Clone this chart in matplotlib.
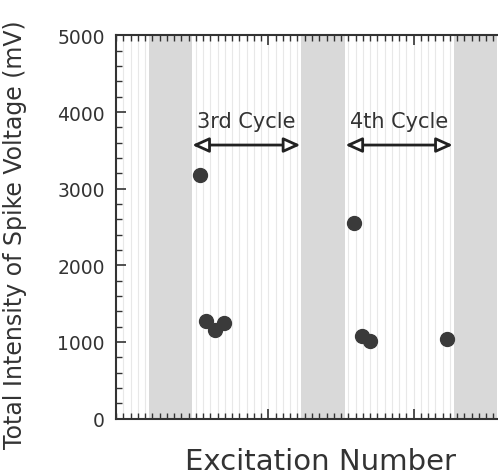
import numpy as np
import matplotlib.pyplot as plt
from matplotlib.ticker import MultipleLocator, FixedLocator

# excitation number vs total spike intensity (mV)
exc = [11.6, 12.4, 13.7, 14.9, 32.8, 33.9, 35.0, 45.6]
intensity = [3185, 1273, 1155, 1247, 2548, 1081, 1016, 1038]

# resting periods (shaded)
rest_start = [4.5, 25.5, 46.5]
rest_width = 6.0

cycle_names = ["3rd Cycle", "4th Cycle"]
cycle_from = [10.5, 31.6]
cycle_to = [25.4, 46.4]

fig = plt.figure(figsize=(4.98, 4.77), dpi=100)
ax = fig.add_axes([0.233, 0.1205, 0.822, 0.803])

ax.set_xlim(0, 56.4)
ax.set_ylim(0, 5000)

# light vertical grid
for xv in np.arange(1, 57, 1):
    ax.axvline(xv, color="#e8e8e8", lw=0.8, zorder=0)

for s in rest_start:
    ax.axvspan(s, s + rest_width, color="#d9d9d9", lw=0, zorder=1)

ax.plot(exc, intensity, "o", color="#3a3a3a", ms=10, zorder=5)

for name, a, b in zip(cycle_names, cycle_from, cycle_to):
    ax.annotate("", xy=(a, 3570), xytext=(b, 3570),
                arrowprops=dict(arrowstyle="<|-|>,head_length=1.0,head_width=0.45",
                                fc="white", ec="#222222", lw=2,
                                shrinkA=0, shrinkB=0), zorder=6)
    ax.text((a + b) / 2, 3880, name, ha="center", va="center",
            fontsize=15, color="#333333", zorder=6)

ax.yaxis.set_major_locator(MultipleLocator(1000))
ax.yaxis.set_minor_locator(MultipleLocator(200))
ax.xaxis.set_major_locator(FixedLocator([21, 41]))
ax.xaxis.set_minor_locator(MultipleLocator(1))
ax.set_xticklabels([])

ax.tick_params(axis="both", which="both", direction="in", top=True, right=False,
               color="#333333")
ax.tick_params(axis="y", which="major", length=7, width=1.2, labelsize=13.5,
               labelcolor="#333333", pad=8)
ax.tick_params(axis="y", which="minor", length=4, width=1)
ax.tick_params(axis="x", which="major", length=7, width=1.2)
ax.tick_params(axis="x", which="minor", length=4, width=1)

for sp in ["left", "bottom", "top"]:
    ax.spines[sp].set_linewidth(1.5)
    ax.spines[sp].set_color("#333333")
ax.spines["right"].set_visible(False)

ax.set_ylabel("Total Intensity of Spike Voltage (mV)", fontsize=17,
              color="#333333")
ax.yaxis.set_label_coords(-0.218, 0.482)
ax.set_xlabel("Excitation Number", fontsize=21, color="#333333", labelpad=17)

fig.savefig("out.png", dpi=100)
